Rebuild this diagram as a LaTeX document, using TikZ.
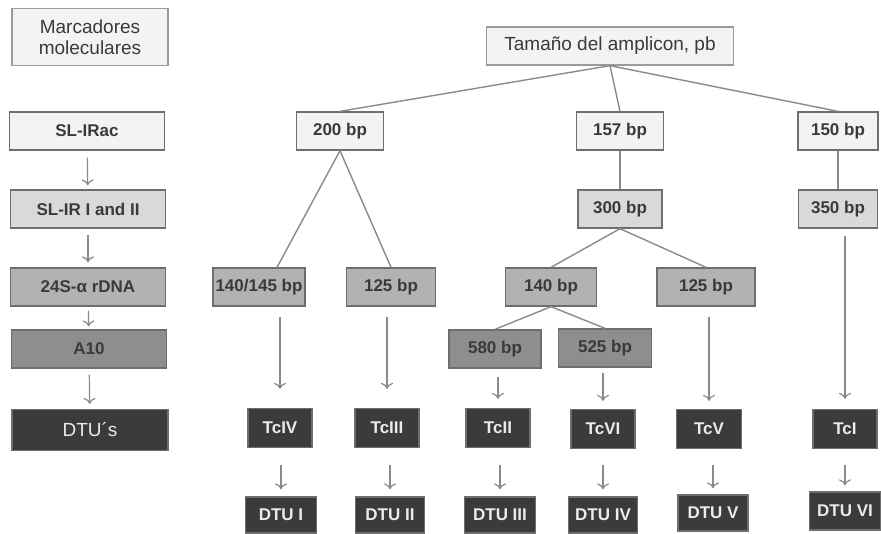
\documentclass[tikz,border=0pt]{standalone}
\usepackage{fontspec}
\setmainfont{Liberation Sans}
\usetikzlibrary{arrows.meta}
\definecolor{txtgray}{HTML}{3A3A3A}
\definecolor{edgegray}{HTML}{6E6E6E}
\definecolor{titlegray}{HTML}{9A9A9A}
\definecolor{linegray}{HTML}{8A8A8A}
\definecolor{shadeA}{HTML}{F3F3F3}
\definecolor{shadeB}{HTML}{D9D9D9}
\definecolor{shadeC}{HTML}{B2B2B2}
\definecolor{shadeD}{HTML}{8E8E8E}
\definecolor{shadeE}{HTML}{3B3B3B}
\begin{document}
\begin{tikzpicture}[
        x=1pt, y=-1pt,
        box/.style={rectangle, draw=edgegray, line width=1.3pt, inner sep=0pt, minimum height=38pt, text=txtgray, font=\bfseries\fontsize{17}{19}\selectfont},
        title/.style={box, draw=titlegray, fill=shadeA, align=center, font=\fontsize{19}{21}\selectfont},
        wide/.style={box, minimum width=155pt},
        small/.style={box, minimum width=87pt},
        tc/.style={box, fill=shadeE, minimum width=64pt, minimum height=39pt, text=white!92!black},
        dtu/.style={tc, minimum width=70pt, minimum height=36pt},
        link/.style={draw=linegray, line width=1.4pt},
        arrow/.style={-{To[length=6pt, width=12pt]}, draw=linegray, line width=1.2pt}
    ]
        \useasboundingbox (0,0) rectangle (881,533);

        % left column
        \node[title, minimum width=156pt, minimum height=57pt] (marc) at (90,37) {Marcadores\\moleculares};
        \node[wide, fill=shadeA] (slirac) at (87,131) {SL-IRac};
        \node[wide, fill=shadeB] (slir) at (88,209) {SL-IR I and II};
        \node[wide, fill=shadeC] (rdna) at (88,287) {24S-α rDNA};
        \node[wide, fill=shadeD] (aten) at (89,349) {A10};
        \node[wide, fill=shadeE, minimum width=156pt, minimum height=41pt, text=white!92!black, font=\fontsize{19}{21}\selectfont] (dtus) at (90,430) {DTU´s};

        \draw[arrow, shorten <=7pt, shorten >=4pt] (slirac) -- (slir);
        \draw[arrow, shorten <=6pt, shorten >=5pt] (slir) -- (rdna);
        \draw[arrow, shorten <=4pt, shorten >=3pt] (rdna) -- (aten);
        \draw[arrow, shorten <=6pt, shorten >=5pt] (aten) -- (dtus);

        % amplicon tree
        \node[title, minimum width=247pt, minimum height=38pt] (amp) at (610,46) {Tamaño del amplicon, pb};
        \node[small, fill=shadeA] (b200) at (340,131) {200 bp};
        \node[small, fill=shadeA] (b157) at (620,131) {157 bp};
        \node[small, fill=shadeA, minimum width=80pt] (b150) at (838,131) {150 bp};
        \node[small, fill=shadeB, minimum width=84pt] (b300) at (620,209) {300 bp};
        \node[small, fill=shadeB, minimum width=79pt] (b350) at (838,209) {350 bp};
        \node[small, fill=shadeC, minimum width=92pt] (b140a) at (259,287) {140/145 bp};
        \node[small, fill=shadeC, minimum width=89pt] (b125a) at (391,287) {125 bp};
        \node[small, fill=shadeC, minimum width=91pt] (b140b) at (551,287) {140 bp};
        \node[small, fill=shadeC, minimum width=98pt] (b125b) at (706,287) {125 bp};
        \node[small, fill=shadeD, minimum width=92pt] (b580) at (495,349) {580 bp};
        \node[small, fill=shadeD, minimum width=93pt] (b525) at (605,348) {525 bp};

        \draw[link] (amp.south) -- (b200.north);
        \draw[link] (amp.south) -- (b157.north);
        \draw[link] (amp.south) -- (b150.north);
        \draw[link] (b200.south) -- (b140a.north -| 277,0);
        \draw[link] (b200.south) -- (b125a.north);
        \draw[link] (b157) -- (b300);
        \draw[link] (b150) -- (b350);
        \draw[link] (b300.south) -- (b140b.north);
        \draw[link] (b300.south) -- (b125b.north);
        \draw[link] (b140b.south) -- (b580.north);
        \draw[link] (b140b.south) -- (b525.north);

        % Tc groups
        \node[tc] (tcIV) at (280,428) {TcIV};
        \node[tc] (tcIII) at (387,428) {TcIII};
        \node[tc] (tcII) at (498,428) {TcII};
        \node[tc] (tcVI) at (603,429) {TcVI};
        \node[tc, minimum width=65pt] (tcV) at (709,429) {TcV};
        \node[tc] (tcI) at (845,429) {TcI};

        \draw[arrow, shorten <=10pt, shorten >=19pt] (b140a.south -| tcIV) -- (tcIV);
        \draw[arrow, shorten <=10pt, shorten >=19pt] (b125a.south -| tcIII) -- (tcIII);
        \draw[arrow, shorten <=8pt, shorten >=9pt] (b580.south -| tcII) -- (tcII);
        \draw[arrow, shorten <=5pt, shorten >=8pt] (b525.south -| tcVI) -- (tcVI);
        \draw[arrow, shorten <=10pt, shorten >=8pt] (b125b.south -| tcV) -- (tcV);
        \draw[arrow, shorten <=7pt, shorten >=10pt] (b350.south -| tcI) -- (tcI);

        % DTUs
        \node[dtu, minimum width=71pt] (dtuI) at (281,515) {DTU I};
        \node[dtu, minimum width=69pt] (dtuII) at (390,515) {DTU II};
        \node[dtu, minimum width=71pt] (dtuIII) at (500,515) {DTU III};
        \node[dtu, minimum width=69pt] (dtuIV) at (603,515) {DTU IV};
        \node[dtu] (dtuV) at (713,513) {DTU V};
        \node[dtu, minimum width=71pt, minimum height=38pt] (dtuVI) at (845,511) {DTU VI};

        \draw[arrow, shorten <=17pt, shorten >=7pt] (tcIV.south -| dtuI) -- (dtuI);
        \draw[arrow, shorten <=17pt, shorten >=7pt] (tcIII.south -| dtuII) -- (dtuII);
        \draw[arrow, shorten <=17pt, shorten >=7pt] (tcII.south -| dtuIII) -- (dtuIII);
        \draw[arrow, shorten <=16pt, shorten >=7pt] (tcVI.south -| dtuIV) -- (dtuIV);
        \draw[arrow, shorten <=16pt, shorten >=6pt] (tcV.south -| dtuV) -- (dtuV);
        \draw[arrow, shorten <=16pt, shorten >=6pt] (tcI.south -| dtuVI) -- (dtuVI);
    \end{tikzpicture}
\end{document}
